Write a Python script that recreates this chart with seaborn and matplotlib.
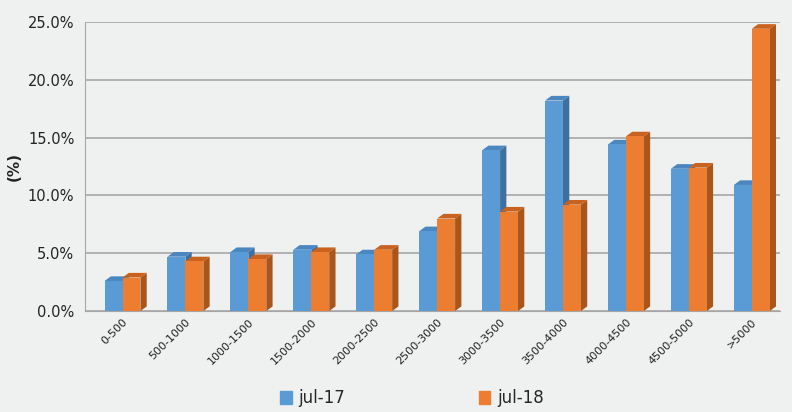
"""
Income bracket distribution, jul-17 vs jul-18 (3D-look bar chart)
"""

import pandas as pd
import seaborn as sns
import matplotlib.pyplot as plt
from matplotlib.patches import Polygon
from matplotlib.ticker import PercentFormatter

brackets = ['0-500', '500-1000', '1000-1500', '1500-2000', '2000-2500', '2500-3000',
            '3000-3500', '3500-4000', '4000-4500', '4500-5000', '>5000']
jul_17 = [2.6, 4.7, 5.1, 5.3, 4.9, 6.9, 13.9, 18.2, 14.4, 12.3, 10.9]
jul_18 = [2.9, 4.3, 4.5, 5.1, 5.3, 8.0, 8.6, 9.2, 15.1, 12.4, 24.4]
series = ['jul-17', 'jul-18']

colors = {'jul-17': '#5b9bd5', 'jul-18': '#ed7d31'}
sides = {'jul-17': '#3f6f9e', 'jul-18': '#a9561d'}
tops = {'jul-17': '#4a86bf', 'jul-18': '#c9621f'}

data = pd.DataFrame({
    'bracket': brackets * 2,
    'value': jul_17 + jul_18,
    'serie': [series[0]] * len(brackets) + [series[1]] * len(brackets),
})

sns.set_style('white')
bg = '#eff1f1'
fig = plt.figure(figsize=(7.92, 4.12), dpi=100, facecolor=bg)
ax = fig.add_axes([0.107, 0.245, 0.878, 0.702])
ax.set_facecolor(bg)

sns.barplot(data=data, x='bracket', y='value', hue='serie', palette=colors,
            width=0.57, saturation=1, dodge=True, ax=ax, legend=False, zorder=3,
            edgecolor='none', linewidth=0)

ax.set_ylim(0, 25)
ax.set_xlim(-0.6, 10.45)
ax.set_yticks(range(0, 26, 5))
ax.yaxis.set_major_formatter(PercentFormatter(decimals=1))
ax.grid(axis='y', color='#a6a6a6', linewidth=1.2, zorder=0)

# fake 3D depth on each bar, derived from the drawn patches
dx, dy = 0.1, 0.4
hue_of = []
for s in series:
    hue_of += [s] * len(brackets)
for patch, s in zip(ax.patches, hue_of):
    x0, y0 = patch.get_x(), patch.get_y()
    w, h = patch.get_width(), patch.get_height()
    side = Polygon([(x0 + w, y0), (x0 + w + dx, y0 + dy), (x0 + w + dx, y0 + h + dy), (x0 + w, y0 + h)],
                   closed=True, facecolor=sides[s], edgecolor='none', zorder=2.9)
    top = Polygon([(x0, y0 + h), (x0 + dx, y0 + h + dy), (x0 + w + dx, y0 + h + dy), (x0 + w, y0 + h)],
                  closed=True, facecolor=tops[s], edgecolor='none', zorder=2.9)
    ax.add_patch(side)
    ax.add_patch(top)

for sp in ['top', 'right']:
    ax.spines[sp].set_visible(False)
ax.spines['left'].set_color('#a6a6a6')
ax.spines['bottom'].set_color('#a6a6a6')

ax.set_xlabel('')
ax.set_ylabel('(%)', fontsize=11, fontweight='bold', color='#222222')
ax.tick_params(axis='y', labelsize=10.5, colors='#222222', length=4, color='#a6a6a6')
ax.tick_params(axis='x', length=0, pad=4)
plt.setp(ax.get_xticklabels(), rotation=45, ha='right', rotation_mode='anchor',
         fontsize=8, color='#222222')

handles = [plt.Rectangle((0, 0), 1, 1, color=colors[s]) for s in series]
fig.legend(handles, series, loc='lower center', bbox_to_anchor=(0.52, -0.025), ncol=2,
           frameon=False, fontsize=12, columnspacing=8, handlelength=0.7,
           handleheight=0.9, handletextpad=0.4)

plt.savefig('out.png', dpi=100, facecolor=bg)
